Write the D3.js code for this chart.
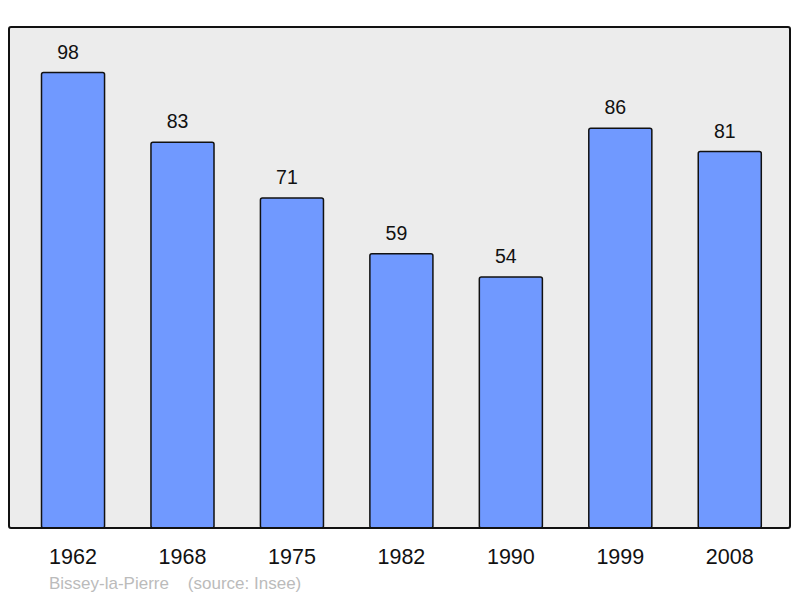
<!DOCTYPE html>
<html>
<head>
<meta charset="utf-8">
<script src="https://cdn.jsdelivr.net/npm/d3@7"></script>
<style>
  body { margin: 0; background: #fff; }
  svg { display: block; font-family: "Liberation Sans", Arial, sans-serif; }
</style>
</head>
<body>
<svg id="chart" width="800" height="598"></svg>
<script>
// population data
var years = ["1962", "1968", "1975", "1982", "1990", "1999", "2008"];
var population = [98, 83, 71, 59, 54, 86, 81];
var placeName = "Bissey-la-Pierre";
var sourceNote = "(source: Insee)";

var svg = d3.select("#chart");

var frameLeft = 9, frameRight = 790, frameTop = 27, frameBottom = 528;

var xScale = d3.scaleBand()
  .domain(years)
  .range([18.3, 784.5])
  .paddingInner(0.424)
  .paddingOuter(0.212);

var yScale = d3.scaleLinear()
  .domain([0, 107.8])
  .range([frameBottom, frameTop]);

// background panel
svg.append("rect")
  .attr("x", frameLeft)
  .attr("y", frameTop)
  .attr("width", frameRight - frameLeft)
  .attr("height", frameBottom - frameTop)
  .attr("rx", 2)
  .style("fill", "#ececec")
  .style("stroke", "none");

var data = years.map((y, i) => ({ year: y, value: population[i] }));

svg.selectAll(".bar")
  .data(data)
  .enter()
  .append("rect")
  .attr("class", "bar")
  .attr("x", d => xScale(d.year))
  .attr("y", d => yScale(d.value))
  .attr("width", xScale.bandwidth())
  .attr("height", d => yScale(0) - yScale(d.value))
  .attr("rx", 2)
  .style("fill", "#7099ff")
  .style("stroke", "#111")
  .style("stroke-width", 1.5);

// value labels sit a little left of the bar centre in the original
svg.selectAll(".value")
  .data(data)
  .enter()
  .append("text")
  .attr("class", "value")
  .attr("x", d => xScale(d.year) + xScale.bandwidth() / 2 - 5)
  .attr("y", d => yScale(d.value) - 14)
  .attr("text-anchor", "middle")
  .style("font-size", "19.5px")
  .style("fill", "#111")
  .text(d => d.value);

// frame drawn on top
svg.append("rect")
  .attr("x", frameLeft)
  .attr("y", frameTop)
  .attr("width", frameRight - frameLeft)
  .attr("height", frameBottom - frameTop)
  .attr("rx", 2)
  .style("fill", "none")
  .style("stroke", "#111")
  .style("stroke-width", 2);

var xAxis = d3.axisBottom(xScale).tickSize(0).tickPadding(0);
var axisG = svg.append("g")
  .attr("transform", "translate(0," + frameBottom + ")")
  .call(xAxis);
axisG.select(".domain").remove();
axisG.selectAll("text")
  .attr("dy", null)
  .attr("y", 36)
  .style("font-family", "'Liberation Sans', Arial, sans-serif")
  .style("font-size", "21.5px")
  .style("fill", "#111");

svg.append("text")
  .attr("x", 49)
  .attr("y", 589)
  .style("font-size", "17px")
  .style("fill", "#bbbbbb")
  .style("white-space", "pre")
  .text(placeName + "    " + sourceNote);
</script>
</body>
</html>
